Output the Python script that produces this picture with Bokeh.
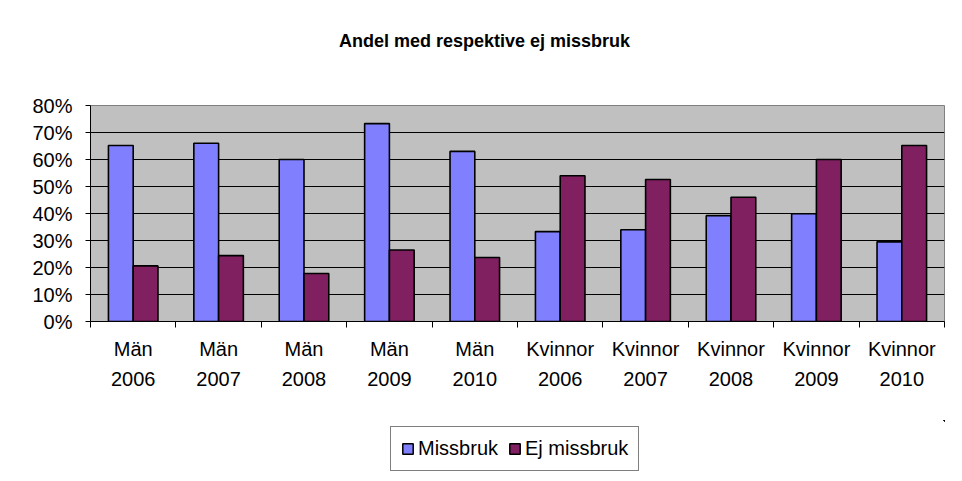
from bokeh.plotting import figure
from bokeh.layouts import column
from bokeh.models import (Range1d, FixedTicker, LinearAxis, Legend, LegendItem,
                          ColumnDataSource, Grid, Label)
from bokeh.embed import file_html
from bokeh.resources import INLINE

# ---- data ----
groups = ["Män", "Män", "Män", "Män", "Män",
          "Kvinnor", "Kvinnor", "Kvinnor", "Kvinnor", "Kvinnor"]
years = ["2006", "2007", "2008", "2009", "2010",
         "2006", "2007", "2008", "2009", "2010"]
missbruk = [65.2, 66.0, 60.0, 73.3, 63.0, 33.3, 34.0, 39.2, 39.9, 29.5]
ej_missbruk = [20.6, 24.4, 17.8, 26.5, 23.7, 54.0, 52.6, 46.0, 60.0, 65.2]
y_ticks = [0, 10, 20, 30, 40, 50, 60, 70, 80]
series_names = ["Missbruk", "Ej missbruk"]
series_colors = ["#8080FF", "#802060"]
title_text = "Andel med respektive ej missbruk"

FONT = "Liberation Sans"
BAR_W = 0.29

n = len(groups)
centers = [i + 0.5 for i in range(n)]
src = ColumnDataSource(dict(
    x1=[c - BAR_W / 2 for c in centers],
    x2=[c + BAR_W / 2 for c in centers],
    m=missbruk, e=ej_missbruk))


def strip(height):
    # plain white strip whose ranges lie away from all the data
    f = figure(width=962, height=height,
               x_range=Range1d(-20, -19), y_range=Range1d(-20, -19),
               x_axis_type=None, y_axis_type=None,
               output_backend="svg", toolbar_location=None,
               min_border_left=90, min_border_right=18,
               min_border_top=0, min_border_bottom=0)
    f.outline_line_color = None
    f.background_fill_color = "white"
    f.border_fill_color = "white"
    f.xgrid.visible = False
    f.ygrid.visible = False
    return f


# ---- title strip ----
p0 = strip(60)
p0.add_layout(Label(x=394, y=20, x_units="screen", y_units="screen",
                    text=title_text, text_align="center",
                    text_baseline="alphabetic",
                    text_font=FONT, text_font_size="18px",
                    text_font_style="bold", text_color="black"))

# ---- main chart ----
p = figure(width=962, height=360,
           x_range=Range1d(0, n), y_range=Range1d(0, 80),
           x_axis_type=None, y_axis_type=None,
           output_backend="svg", toolbar_location=None,
           min_border_left=90, min_border_right=18,
           min_border_top=45, min_border_bottom=99)

p.background_fill_color = "#C0C0C0"
p.border_fill_color = "white"
p.outline_line_color = "#808080"
p.outline_line_width = 1

grid = Grid(dimension=1, ticker=FixedTicker(ticks=y_ticks[:-1]),
            grid_line_color="black", grid_line_width=1)
p.add_layout(grid)

r1 = p.vbar(x="x1", top="m", width=BAR_W, source=src,
            fill_color=series_colors[0], line_color="black", line_width=1.6)
r2 = p.vbar(x="x2", top="e", width=BAR_W, source=src,
            fill_color=series_colors[1], line_color="black", line_width=1.6)

yaxis = LinearAxis(ticker=FixedTicker(ticks=y_ticks),
                   major_label_overrides={v: f"{v}%" for v in y_ticks},
                   major_tick_out=5, major_tick_in=0,
                   minor_tick_out=0, minor_tick_in=0,
                   axis_line_color="black", major_tick_line_color="black",
                   major_label_text_font=FONT,
                   major_label_text_font_size="20px",
                   major_label_text_color="black",
                   major_label_standoff=13)
p.add_layout(yaxis, "left")

xticks = LinearAxis(ticker=FixedTicker(ticks=list(range(n + 1))),
                    major_tick_out=6, major_tick_in=0,
                    minor_tick_out=0, minor_tick_in=0,
                    axis_line_color="black", major_tick_line_color="black",
                    major_label_text_font_size="0px",
                    major_label_standoff=0)
p.add_layout(xticks, "below")

xlabels = LinearAxis(ticker=FixedTicker(ticks=centers),
                     major_label_overrides={c: f"{g}\n{y}" for c, g, y in zip(centers, groups, years)},
                     axis_line_color=None, major_tick_line_color=None,
                     minor_tick_line_color=None,
                     major_tick_out=0, major_tick_in=0,
                     major_label_text_font=FONT,
                     major_label_text_font_size="20px",
                     major_label_text_color="black",
                     major_label_text_line_height=1.4,
                     major_label_standoff=10)
p.add_layout(xlabels, "below")

# ---- legend strip ----
p2 = strip(61)
lr1 = p2.vbar(x="x1", top="m", width=BAR_W, source=src,
              fill_color=series_colors[0], line_color="black", line_width=1.5)
lr2 = p2.vbar(x="x2", top="e", width=BAR_W, source=src,
              fill_color=series_colors[1], line_color="black", line_width=1.5)

legend = Legend(items=[LegendItem(label=series_names[0], renderers=[lr1]),
                       LegendItem(label=series_names[1], renderers=[lr2])],
                orientation="horizontal", location=(300, 10),
                border_line_color="black", border_line_width=1,
                background_fill_color="white", background_fill_alpha=1,
                glyph_width=13, glyph_height=13,
                label_text_font=FONT, label_text_font_size="20px",
                label_text_color="black",
                label_standoff=4, spacing=10, padding=10, margin=0)
p2.add_layout(legend, "center")

layout = column(p0, p, p2, spacing=0)

open("out.html", "w").write(file_html(layout, INLINE))
